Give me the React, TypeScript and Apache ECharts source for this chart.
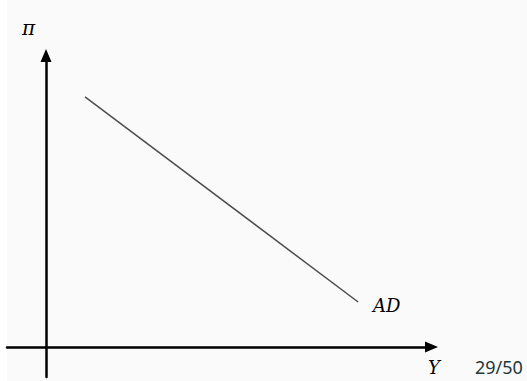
import React, { useEffect, useRef } from "react";
import * as echarts from "echarts";

// Axis domains (arbitrary units)
const xRange = [-1, 9.88];
const yRange = [-1, 9.72];
// AD curve: two end points
const adX = [1.0, 8.0];
const adY = [8.34, 1.5];
// Texts
const yAxisLabel = "π";
const xAxisLabel = "Y";
const curveLabel = "AD";
const pageLabel = "29/50";

export default function App() {
  const ref = useRef<HTMLDivElement>(null);
  useEffect(() => {
    document.body.style.margin = "0";
    const chart = echarts.init(ref.current!, null, { renderer: "svg" });
    const axisCommon = {
      axisTick: { show: false },
      axisLabel: { show: false },
      splitLine: { show: false },
    };
    chart.setOption({
      animation: false,
      backgroundColor: "#fafafa",
      grid: { left: 7, right: 95.5, top: 55.5, bottom: 4 },
      xAxis: {
        type: "value",
        min: xRange[0],
        max: xRange[1],
        ...axisCommon,
        axisLine: {
          show: true,
          onZero: true,
          symbol: ["none", "triangle"],
          symbolSize: [11, 13],
          lineStyle: { color: "#000", width: 2.5 },
        },
      },
      yAxis: {
        type: "value",
        min: yRange[0],
        max: yRange[1],
        ...axisCommon,
        axisLine: {
          show: true,
          onZero: true,
          symbol: ["none", "triangle"],
          symbolSize: [11, 13],
          lineStyle: { color: "#000", width: 2.5 },
        },
      },
      series: [
        {
          type: "line",
          data: adX.map((x, i) => [x, adY[i]]),
          symbol: "none",
          lineStyle: { color: "#4d4d4d", width: 1.5 },
          silent: true,
        },
      ],
      graphic: [
        { type: "rect", shape: { x: 0, y: 0, width: 7, height: 381 }, style: { fill: "#ffffff" }, z: -10 },
        {
          type: "text",
          x: 22,
          y: 38,
          style: { text: yAxisLabel, font: 'italic 20px "DejaVu Serif"', fill: "#000", textVerticalAlign: "bottom" },
        },
        {
          type: "text",
          x: 373,
          y: 314,
          style: { text: curveLabel, font: 'italic 18px "DejaVu Serif"', fill: "#000", textVerticalAlign: "bottom" },
        },
        {
          type: "text",
          x: 428,
          y: 376,
          style: { text: xAxisLabel, font: 'italic 18px "DejaVu Serif"', fill: "#000", textVerticalAlign: "bottom" },
        },
        {
          type: "text",
          x: 475,
          y: 376,
          style: { text: pageLabel, font: '18px "Noto Sans"', fill: "#23373b", textVerticalAlign: "bottom" },
        },
      ],
    });
    return () => chart.dispose();
  }, []);
  return <div ref={ref} style={{ width: 527, height: 381 }} />;
}
